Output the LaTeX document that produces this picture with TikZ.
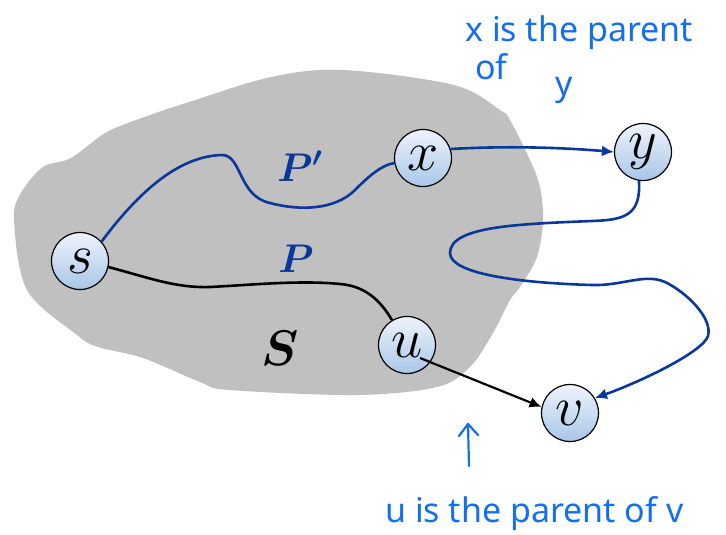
\RequirePackage{fix-cm}
\documentclass[tikz,border=0pt]{standalone}
\usepackage{fontspec}
\newfontfamily\handfont{Noto Sans}
\usetikzlibrary{arrows.meta,calc}
\definecolor{pathblue}{RGB}{10,55,155}
\definecolor{handblue}{RGB}{20,110,240}
\definecolor{blobgray}{RGB}{192,192,192}
\definecolor{nodetop}{RGB}{238,244,252}
\definecolor{nodebot}{RGB}{168,198,232}
\begin{document}
\begin{tikzpicture}[x=1pt,y=-1pt,
  vnode/.style={circle, draw=black, line width=1.2pt, minimum size=57pt, inner sep=0pt,
    top color=nodetop, bottom color=nodebot, font=\fontsize{56}{56}\selectfont},
  bluepath/.style={draw=pathblue, line width=2.6pt},
  blackpath/.style={draw=black, line width=2.6pt},
  tipped/.style={-{Latex[length=12pt,width=11pt]}},
  handtext/.style={text=handblue, font=\handfont\fontsize{34}{34}\selectfont, anchor=base west, inner sep=0pt},
  lbl/.style={text=pathblue, inner sep=0pt, font=\fontsize{40}{40}\selectfont\boldmath}
]
\useasboundingbox (0,0) rectangle (726,535);

% the set S
\fill[blobgray] plot[smooth cycle, tension=0.55] coordinates {
 (14,220) (27,290) (77,335) (98,347) (143,358) (200,382) (229,390) (357,395)
 (437,387) (470,367) (493,333) (510,300) (520,287) (537,257) (543,220)
 (540,187) (530,160) (510,120) (500,110) (454,85) (343,70) (271,77)
 (186,103) (150,115) (107,132) (71,158) (43,167) (21,193)};

% nodes
\node[vnode] (s) at (80,261) {$s$};
\node[vnode] (x) at (423,158) {$x$};
\node[vnode] (y) at (643,152) {$y$};
\node[vnode] (u) at (407,345) {$u$};
\node[vnode] (v) at (570,413) {$v$};

% labels
\node[lbl] (lpp) at (300,166) {$P'$};
\node[lbl] (lp) at (296,259) {$P$};
\node[inner sep=0pt, font=\fontsize{50}{50}\selectfont\boldmath] (lS) at (280,348) {$S$};

% path P'
\draw[bluepath] (s.42) .. controls (140,190) and (180,156) .. (222,155)
  .. controls (242,155) and (238,196) .. (270,203)
  .. controls (300,211) and (335,210) .. (355,190)
  .. controls (370,175) and (382,165) .. (x.190);

% path P
\draw[blackpath] (s.-12) .. controls (150,278) and (175,288) .. (210,287)
  .. controls (250,285) and (300,280) .. (340,284)
  .. controls (365,286) and (380,300) .. (u.121);

% x -> y
\draw[bluepath, tipped] (x.18) .. controls (520,145) and (580,149) .. (y.180);

% y -> v loop
\draw[bluepath, tipped] (y.-98) .. controls (641,215) and (625,220) .. (592,221)
  .. controls (520,224) and (450,226) .. (450,253)
  .. controls (450,274) and (520,283) .. (592,285)
  .. controls (622,286) and (645,273) .. (665,282)
  .. controls (686,292) and (713,318) .. (708,336)
  .. controls (703,352) and (640,382) .. (v.31);

% u -> v
\coordinate (ustart) at ($(u.center)+(13,13)$);
\draw[line width=2.2pt, tipped] (ustart) -- (v.168);

% handwritten notes
\node[handtext] (t1) at (465,42) {x is the parent};
\node[handtext] (t2) at (475,80) {of\hspace{1.4em}\raisebox{-16pt}{y}};
\node[handtext] (t3) at (385,522) {u is the parent of v};
\coordinate (arrbot) at (469,466);
\coordinate (arrtop) at (468,424);
\coordinate (barbl) at (459,436);
\coordinate (barbr) at (478,435);
\draw[handblue, line width=2.2pt, line cap=round, line join=round] (arrbot) -- (arrtop);
\draw[handblue, line width=2.2pt, line cap=round, line join=round] (barbl) -- (arrtop) -- (barbr);
\end{tikzpicture}
\end{document}
